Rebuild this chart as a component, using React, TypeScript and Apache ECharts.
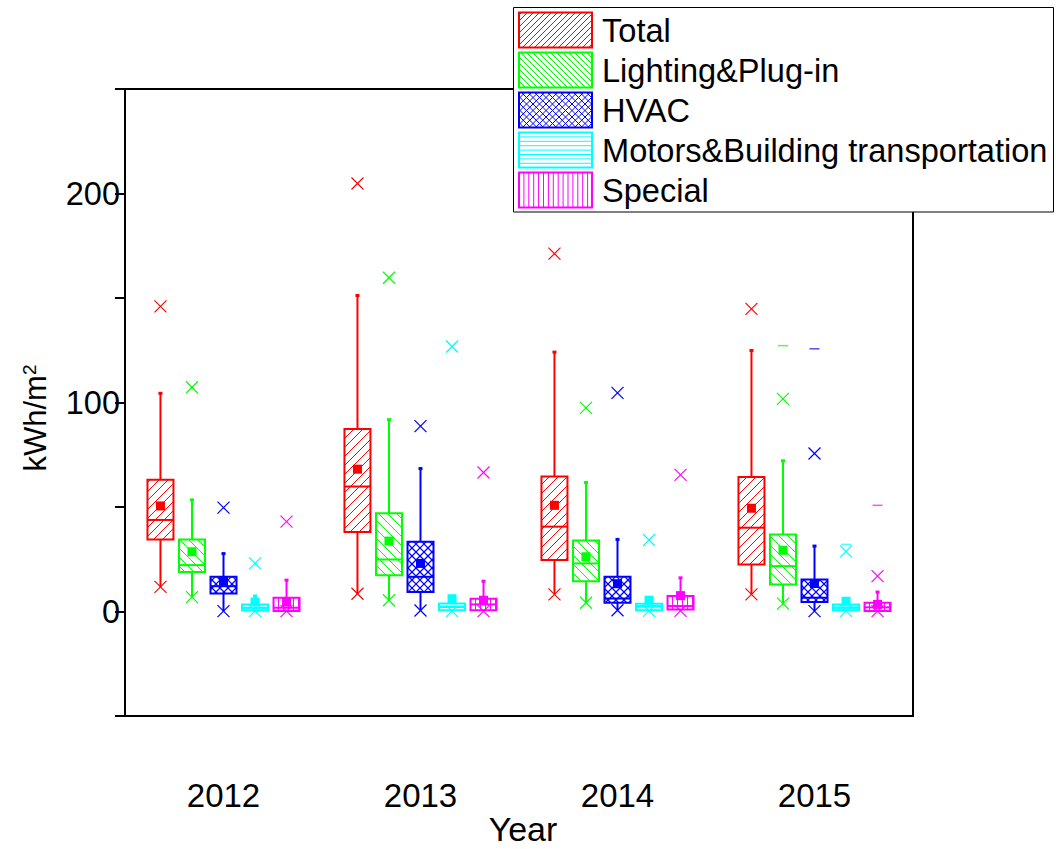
import React, { useEffect, useRef } from "react";
import * as echarts from "echarts";

// ---- data ----
const years = ["2012", "2013", "2014", "2015"];
const seriesNames = ["Total", "Lighting&Plug-in", "HVAC", "Motors&Building transportation", "Special"];
const yTicks = { min: -50, max: 250, step: 50 };

// each row: [low (whisker end / 1% x), Q1, median, Q3, upper whisker, mean, 99% (x), max (-) or null]
const total = [
  [11.8, 34.5, 43.8, 63.0, 104.4, 50.5, 146.0, null],
  [8.5, 38.0, 59.8, 87.3, 151.2, 68.1, 204.8, null],
  [8.2, 24.6, 40.6, 64.6, 124.1, 50.8, 171.2, null],
  [8.2, 22.5, 40.1, 64.4, 124.9, 49.4, 144.8, null],
];
const lighting = [
  [6.9, 18.9, 22.2, 34.5, 53.4, 28.6, 107.3, null],
  [5.4, 17.3, 24.9, 47.0, 91.8, 33.7, 159.7, null],
  [4.2, 14.5, 23.0, 34.0, 61.7, 26.2, 97.4, null],
  [3.8, 12.9, 21.7, 36.9, 72.1, 29.3, 101.7, 127.2],
];
const hvac = [
  [0.2, 8.6, 12.1, 16.6, 27.7, 14.5, 49.7, null],
  [0.5, 9.3, 16.6, 33.4, 68.4, 23.0, 88.7, null],
  [0.6, 4.2, 6.2, 16.6, 34.5, 13.3, 104.6, null],
  [0.2, 4.6, 6.6, 15.3, 31.3, 13.4, 75.6, 125.7],
];
const motors = [
  [0.2, 0.5, 1.8, 3.4, 7.4, 4.5, 23.0, null],
  [0.2, 0.6, 2.2, 3.8, 6.5, 6.1, 126.8, null],
  [0.3, 0.6, 2.6, 3.7, 6.6, 5.4, 34.2, null],
  [0.3, 0.6, 2.0, 3.4, 5.7, 4.9, 28.8, 32.1],
];
const special = [
  [0.2, 0.2, 1.8, 6.6, 15.0, 4.5, 43.0, null],
  [0.2, 0.6, 3.4, 6.1, 14.5, 5.4, 66.5, null],
  [0.3, 1.0, 2.6, 7.4, 16.1, 7.6, 65.4, null],
  [0.2, 0.2, 2.0, 4.2, 9.3, 3.4, 16.9, 50.8],
];

const allStats = [total, lighting, hvac, motors, special];
const COLORS = ["#ff0000", "#00ff00", "#0000ff", "#00ffff", "#ff00ff"];
const PATTERNS = ["fwd", "back", "cross", "horiz", "vert"];
const FONT = "'Liberation Sans', Arial, sans-serif";

function hatchLines(pattern: string, x0: number, y0: number, w: number, h: number, step: number) {
  const x1 = x0 + w;
  const y1 = y0 + h;
  const segs: number[][] = [];
  if (pattern === "fwd" || pattern === "cross") {
    const start = Math.ceil((x0 + y0) / step) * step;
    for (let c = start; c <= x1 + y1; c += step) {
      const lo = Math.max(x0, c - y1);
      const hi = Math.min(x1, c - y0);
      if (hi - lo > 0.5) segs.push([lo, c - lo, hi, c - hi]);
    }
  }
  if (pattern === "back" || pattern === "cross") {
    const start = Math.ceil((y0 - x1) / step) * step;
    for (let c = start; c <= y1 - x0; c += step) {
      const lo = Math.max(x0, y0 - c);
      const hi = Math.min(x1, y1 - c);
      if (hi - lo > 0.5) segs.push([lo, lo + c, hi, hi + c]);
    }
  }
  if (pattern === "horiz") {
    for (let y = y0 + step; y < y1 - 0.5; y += step) segs.push([x0, y, x1, y]);
  }
  if (pattern === "vert") {
    for (let x = x0 + step; x < x1 - 0.5; x += step) segs.push([x, y0, x, y1]);
  }
  return segs;
}

const BOX_STEP = [9, 9, 8, 4, 5];
const LEG_STEP = [6, 6, 6.5, 4.4, 4.9];

function makeRender(sIdx: number) {
  return (params: any, api: any) => {
    const yi = api.value(0);
    const low = api.value(1);
    const q1 = api.value(2);
    const med = api.value(3);
    const q3 = api.value(4);
    const wh = api.value(5);
    const mean = api.value(6);
    const xh = api.value(7);
    const mx = api.value(8);
    const band = api.size([1, 0])[0];
    const cx = api.coord([yi, 0])[0] + (sIdx - 2) * band * 0.16;
    const Y = (v: number) => api.coord([yi, v])[1];
    const color = COLORS[sIdx];
    const bw = 26;
    const bx = cx - bw / 2;
    const yTop = Y(q3);
    const yBot = Y(q1);
    const children: any[] = [];
    const lw = PATTERNS[sIdx] === "cross" ? 1.2 : 1;
    hatchLines(PATTERNS[sIdx], bx, yTop, bw, yBot - yTop, BOX_STEP[sIdx]).forEach((s) => {
      children.push({ type: "line", shape: { x1: s[0], y1: s[1], x2: s[2], y2: s[3] }, style: { stroke: color, lineWidth: lw } });
    });
    // whiskers
    children.push({ type: "line", shape: { x1: cx, y1: yTop, x2: cx, y2: Y(wh) }, style: { stroke: color, lineWidth: 2 } });
    children.push({ type: "rect", shape: { x: cx - 2, y: Y(wh) - 1.5, width: 4, height: 3 }, style: { fill: color } });
    children.push({ type: "line", shape: { x1: cx, y1: yBot, x2: cx, y2: Y(low) }, style: { stroke: color, lineWidth: 2 } });
    // box
    children.push({ type: "rect", shape: { x: bx, y: yTop, width: bw, height: yBot - yTop }, style: { fill: "none", stroke: color, lineWidth: 2 } });
    // median
    children.push({ type: "line", shape: { x1: bx, y1: Y(med), x2: bx + bw, y2: Y(med) }, style: { stroke: color, lineWidth: 2 } });
    // mean
    children.push({ type: "rect", shape: { x: cx - 4.5, y: Y(mean) - 4.5, width: 9, height: 9 }, style: { fill: color } });
    // x markers
    [low, xh].forEach((v) => {
      const yy = Y(v);
      children.push({ type: "line", shape: { x1: cx - 6, y1: yy - 6, x2: cx + 6, y2: yy + 6 }, style: { stroke: color, lineWidth: 1.2 } });
      children.push({ type: "line", shape: { x1: cx - 6, y1: yy + 6, x2: cx + 6, y2: yy - 6 }, style: { stroke: color, lineWidth: 1.2 } });
    });
    if (isFinite(mx)) {
      const yy = Y(mx);
      children.push({ type: "line", shape: { x1: cx - 5, y1: yy, x2: cx + 5, y2: yy }, style: { stroke: color, lineWidth: 1.5, opacity: 0.7 } });
    }
    return { type: "group", children };
  };
}

function legendGraphics() {
  const els: any[] = [];
  els.push({ type: "rect", z: 100, shape: { x: 513.5, y: 7.5, width: 540, height: 204.5 }, style: { fill: "#fff", stroke: "#000", lineWidth: 1 } });
  seriesNames.forEach((name, i) => {
    const x = 519, y = 12.5 + 40 * i, w = 73, h = 35;
    const lw = 1;
    hatchLines(PATTERNS[i], x, y, w, h, LEG_STEP[i]).forEach((s) => {
      els.push({ type: "line", z: 101, shape: { x1: s[0], y1: s[1], x2: s[2], y2: s[3] }, style: { stroke: COLORS[i], lineWidth: lw } });
    });
    els.push({ type: "rect", z: 102, shape: { x, y, width: w, height: h }, style: { fill: "none", stroke: COLORS[i], lineWidth: 2 } });
    els.push({
      type: "text", z: 102, x: 602, y: y + h / 2,
      style: { text: name, fill: "#000", font: `32.6px ${FONT}`, align: "left", verticalAlign: "middle" },
    });
  });
  els.push({
    type: "text", z: 102, x: 35, y: 418, rotation: Math.PI / 2,
    style: {
      text: "kWh/m{sup|2}", fill: "#000", fontSize: 31, fontFamily: FONT, align: "center", verticalAlign: "middle",
      rich: { sup: { fontSize: 19, fontFamily: FONT, fill: "#000", verticalAlign: "top", padding: [0, 0, 12, 0] } },
    },
  });
  // x-axis title
  els.push({
    type: "text", z: 102, x: 523, y: 829,
    style: { text: "Year", fill: "#000", font: `34px ${FONT}`, align: "center", verticalAlign: "middle" },
  });
  return els;
}

export default function App() {
  const ref = useRef<HTMLDivElement>(null);
  useEffect(() => {
    if (!ref.current) return;
    const chart = echarts.init(ref.current, undefined, { renderer: "svg" });
    const option: any = {
      animation: false,
      backgroundColor: "#fff",
      textStyle: { fontFamily: FONT },
      grid: {
        left: 125, right: 143, top: 89, bottom: 133, show: true,
        borderColor: "#000", borderWidth: 2, backgroundColor: "transparent",
        containLabel: false, outerBoundsMode: "none",
      },
      xAxis: {
        type: "category",
        data: years,
        axisLine: { onZero: false, lineStyle: { color: "#000", width: 2 } },
        axisTick: { show: false },
        axisLabel: { color: "#000", fontSize: 33, fontFamily: FONT, margin: 63 },
      },
      yAxis: {
        type: "value",
        min: yTicks.min,
        max: yTicks.max,
        interval: yTicks.step,
        axisLine: { show: true, lineStyle: { color: "#000", width: 2 } },
        axisTick: { show: true, length: 10, lineStyle: { color: "#000", width: 2 } },
        axisLabel: {
          color: "#000", fontSize: 32.5, fontFamily: FONT, margin: 5,
          formatter: (v: number) => (v % 100 === 0 ? String(v) : ""),
        },
        splitLine: { show: false },
      },
      series: allStats.map((stats, sIdx) => ({
        type: "custom",
        name: seriesNames[sIdx],
        renderItem: makeRender(sIdx),
        data: stats.map((r, i) => [i, ...r]),
        clip: false,
      })),
      graphic: legendGraphics(),
    };
    chart.setOption(option);
    return () => chart.dispose();
  }, []);
  return <div ref={ref} style={{ position: "fixed", left: 0, top: 0, width: 1056, height: 849 }} />;
}
